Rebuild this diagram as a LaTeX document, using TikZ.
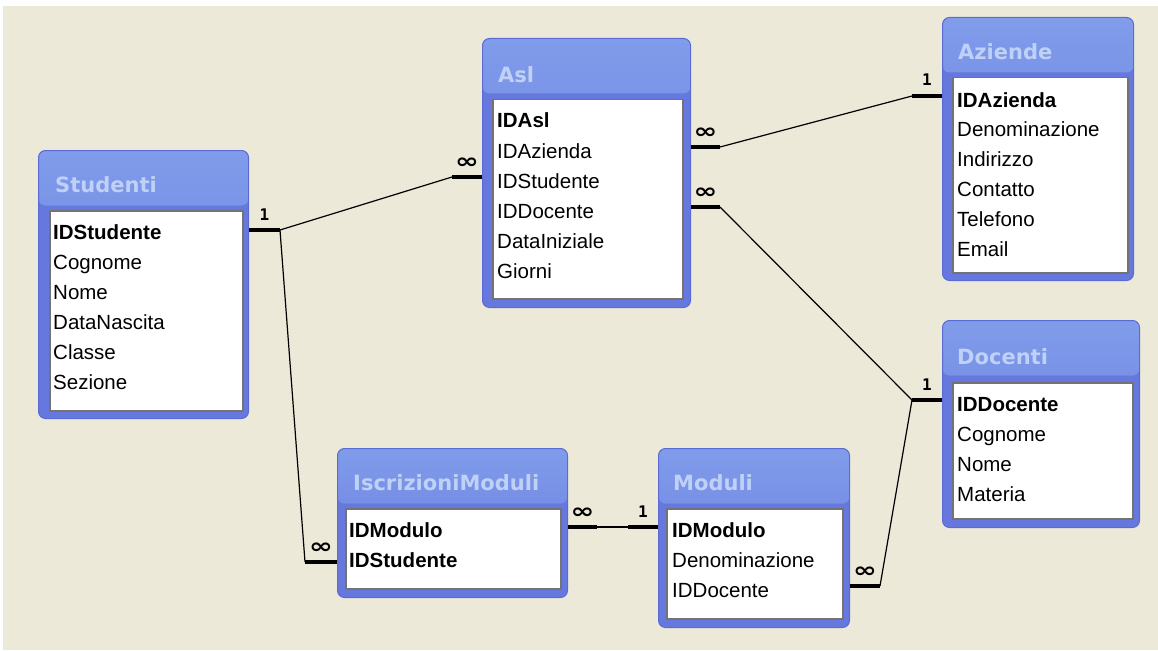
\documentclass[tikz,border=0pt]{standalone}
\usepackage{fontspec}
\setmainfont{Liberation Sans}
\newfontfamily\titlefont{DejaVu Sans}
\newfontfamily\cardfont{DejaVu Sans Mono}
\definecolor{bgbeige}{HTML}{ECE9D8}
\definecolor{framebg}{HTML}{6677DD}
\definecolor{frametop}{HTML}{809CEA}
\definecolor{frameedge}{HTML}{5A6CD4}
\definecolor{titleblue}{HTML}{BFD1F6}
\definecolor{listedge}{HTML}{737373}
\newcommand{\manysign}{\scalebox{1.5}[1.1]{∞}}

\tikzset{
  tableframe/.style={draw=frameedge, line width=1pt, fill=framebg, rounded corners=7pt,
    inner sep=0pt, anchor=north west,
    path picture={\shade[top color=frametop, bottom color=framebg]
      (path picture bounding box.north west) rectangle
      ([yshift=-55pt]path picture bounding box.north east);}},
  tabletitle/.style={anchor=base west, inner sep=0pt, text=titleblue,
    font=\titlefont\bfseries\fontsize{21}{24}\selectfont},
  fieldlist/.style={draw=listedge, line width=1.5pt, fill=white, inner sep=0pt, anchor=north west},
  field/.style={anchor=base west, inner sep=0pt, font=\fontsize{20.5}{24}\selectfont},
  keyfield/.style={field, font=\bfseries\fontsize{20.5}{24}\selectfont},
  stub/.style={line width=4pt, line cap=butt},
  relline/.style={line width=1.2pt},
  one/.style={inner sep=0pt, above=8pt, font=\cardfont\bfseries\fontsize{16}{16}\selectfont},
  many/.style={inner sep=0pt, above=7pt, font=\titlefont\bfseries\fontsize{19}{19}\selectfont}
}

\begin{document}
\begin{tikzpicture}[x=1pt, y=-1pt]%
\useasboundingbox (0,0) rectangle (1158,650);%
\fill[white] (0,0) rectangle (1158,650);%
\fill[bgbeige] (3,6) rectangle (1158,650);%
% Studenti
\node[tableframe, minimum width=210pt, minimum height=268pt] (studenti) at (38,150) {};%
\node[tabletitle] (studenti-title) at (55,192.5) {Studenti};%
\node[fieldlist, minimum width=193pt, minimum height=200pt] (studenti-list) at (49,210) {};%
\node[keyfield] (studenti-f1) at (53,239) {IDStudente};%
\node[field] (studenti-f2) at (53,269) {Cognome};%
\node[field] (studenti-f3) at (53,299) {Nome};%
\node[field] (studenti-f4) at (53,329) {DataNascita};%
\node[field] (studenti-f5) at (53,359) {Classe};%
\node[field] (studenti-f6) at (53,389) {Sezione};%
% Asl
\node[tableframe, minimum width=208pt, minimum height=269pt] (asl) at (482,38) {};%
\node[tabletitle] (asl-title) at (498,82.5) {Asl};%
\node[fieldlist, minimum width=190pt, minimum height=199pt] (asl-list) at (492,99) {};%
\node[keyfield] (asl-f1) at (497,128) {IDAsl};%
\node[field] (asl-f2) at (497,158) {IDAzienda};%
\node[field] (asl-f3) at (497,188) {IDStudente};%
\node[field] (asl-f4) at (497,218) {IDDocente};%
\node[field] (asl-f5) at (497,248) {DataIniziale};%
\node[field] (asl-f6) at (497,278) {Giorni};%
% Aziende
\node[tableframe, minimum width=191pt, minimum height=263pt] (aziende) at (942,17) {};%
\node[tabletitle] (aziende-title) at (958,60) {Aziende};%
\node[fieldlist, minimum width=175pt, minimum height=195pt] (aziende-list) at (952,77) {};%
\node[keyfield] (aziende-f1) at (957,107) {IDAzienda};%
\node[field] (aziende-f2) at (957,136) {Denominazione};%
\node[field] (aziende-f3) at (957,166) {Indirizzo};%
\node[field] (aziende-f4) at (957,196) {Contatto};%
\node[field] (aziende-f5) at (957,226) {Telefono};%
\node[field] (aziende-f6) at (957,256) {Email};%
% Docenti
\node[tableframe, minimum width=197pt, minimum height=207pt] (docenti) at (942,320) {};%
\node[tabletitle] (docenti-title) at (957,364) {Docenti};%
\node[fieldlist, minimum width=180pt, minimum height=136pt] (docenti-list) at (952,382) {};%
\node[keyfield] (docenti-f1) at (957,411) {IDDocente};%
\node[field] (docenti-f2) at (957,441) {Cognome};%
\node[field] (docenti-f3) at (957,471) {Nome};%
\node[field] (docenti-f4) at (957,501) {Materia};%
% IscrizioniModuli
\node[tableframe, minimum width=230pt, minimum height=149pt] (iscrizioni) at (337,448) {};%
\node[tabletitle] (iscrizioni-title) at (353,490) {IscrizioniModuli};%
\node[fieldlist, minimum width=215pt, minimum height=80pt] (iscrizioni-list) at (345,508) {};%
\node[keyfield] (iscrizioni-f1) at (349,537) {IDModulo};%
\node[keyfield] (iscrizioni-f2) at (349,567) {IDStudente};%
% Moduli
\node[tableframe, minimum width=191pt, minimum height=179pt] (moduli) at (658,448) {};%
\node[tabletitle] (moduli-title) at (673,490) {Moduli};%
\node[fieldlist, minimum width=176pt, minimum height=110pt] (moduli-list) at (666,508) {};%
\node[keyfield] (moduli-f1) at (672,537) {IDModulo};%
\node[field] (moduli-f2) at (672,567) {Denominazione};%
\node[field] (moduli-f3) at (672,597) {IDDocente};%
% relationship joints
\coordinate (j-stu) at (280,230);%
\coordinate (j-aslstu) at (452,177);%
\coordinate (j-iscstu) at (305,562);%
\coordinate (j-aslazi) at (720,147);%
\coordinate (j-azi) at (912,96);%
\coordinate (j-asldoc) at (720,207);%
\coordinate (j-doc) at (912,400);%
\coordinate (j-moddoc) at (880,586);%
\coordinate (j-iscmod) at (597,527);%
\coordinate (j-mod) at (628,527);%
% stubs
\draw[stub] (studenti.east |- j-stu) -- node[one] (card-stu) {1} (j-stu);%
\draw[stub] (j-aslstu) -- node[many] (card-aslstu) {\manysign} (asl.west |- j-aslstu);%
\draw[stub] (j-iscstu) -- node[many] (card-iscstu) {\manysign} (iscrizioni.west |- j-iscstu);%
\draw[stub] (asl.east |- j-aslazi) -- node[many] (card-aslazi) {\manysign} (j-aslazi);%
\draw[stub] (j-azi) -- node[one] (card-azi) {1} (aziende.west |- j-azi);%
\draw[stub] (asl.east |- j-asldoc) -- node[many] (card-asldoc) {\manysign} (j-asldoc);%
\draw[stub] (j-doc) -- node[one] (card-doc) {1} (docenti.west |- j-doc);%
\draw[stub] (moduli.east |- j-moddoc) -- node[many] (card-moddoc) {\manysign} (j-moddoc);%
\draw[stub] (iscrizioni.east |- j-iscmod) -- node[many] (card-iscmod) {\manysign} (j-iscmod);%
\draw[stub] (j-mod) -- node[one] (card-mod) {1} (moduli.west |- j-mod);%
% lines
\draw[relline] (j-stu) -- (j-aslstu);%
\draw[relline] (j-stu) -- (j-iscstu);%
\draw[relline] (j-aslazi) -- (j-azi);%
\draw[relline] (j-asldoc) -- (j-doc);%
\draw[relline] (j-moddoc) -- (j-doc);%
\draw[relline] (j-iscmod) -- (j-mod);%
\end{tikzpicture}
\end{document}
